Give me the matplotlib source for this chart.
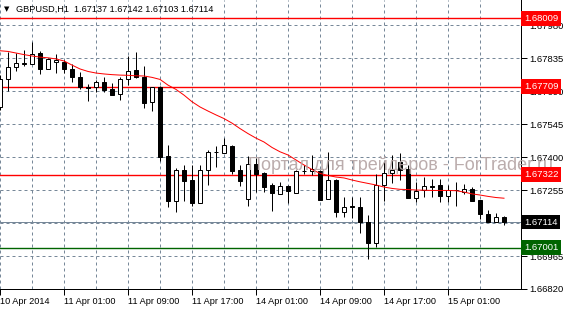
"""GBPUSD H1 candlestick chart, MetaTrader style"""
import numpy as np
import matplotlib
matplotlib.use('Agg')
import matplotlib.pyplot as plt

# OHLC per hourly bar (10 Apr 17:00 .. 15 Apr 08:00)
opens = [1.67620, 1.67743, 1.67794, 1.67810, 1.67810, 1.67856, 1.67785, 1.67816,
         1.67819, 1.67785, 1.67753, 1.67709, 1.67709, 1.67728, 1.67697, 1.67675,
         1.67742, 1.67781, 1.67750, 1.67640, 1.67709, 1.67404, 1.67208, 1.67343,
         1.67299, 1.67197, 1.67343, 1.67420, 1.67416, 1.67448, 1.67343, 1.67214,
         1.67368, 1.67328, 1.67277, 1.67236, 1.67273, 1.67243, 1.67339, 1.67337,
         1.67337, 1.67214, 1.67299, 1.67160, 1.67185, 1.67179, 1.67116, 1.67021,
         1.67276, 1.67331, 1.67379, 1.67346, 1.67221, 1.67255, 1.67271, 1.67277,
         1.67230, 1.67254, 1.67248, 1.67259, 1.67211, 1.67148, 1.67116, 1.67137]
highs = [1.67760, 1.67863, 1.67858, 1.67870, 1.67904, 1.67866, 1.67836, 1.67853,
         1.67826, 1.67807, 1.67772, 1.67719, 1.67738, 1.67750, 1.67726, 1.67753,
         1.67845, 1.67861, 1.67800, 1.67709, 1.67712, 1.67453, 1.67353, 1.67365,
         1.67365, 1.67365, 1.67431, 1.67450, 1.67482, 1.67453, 1.67365, 1.67404,
         1.67397, 1.67335, 1.67284, 1.67291, 1.67277, 1.67343, 1.67365, 1.67409,
         1.67343, 1.67421, 1.67302, 1.67226, 1.67226, 1.67226, 1.67145, 1.67325,
         1.67379, 1.67409, 1.67419, 1.67365, 1.67291, 1.67313, 1.67302, 1.67303,
         1.67277, 1.67291, 1.67281, 1.67270, 1.67211, 1.67167, 1.67154, 1.67142]
lows = [1.67607, 1.67690, 1.67779, 1.67801, 1.67810, 1.67766, 1.67785, 1.67768,
        1.67768, 1.67731, 1.67699, 1.67647, 1.67687, 1.67686, 1.67671, 1.67650,
        1.67716, 1.67747, 1.67617, 1.67603, 1.67384, 1.67182, 1.67160, 1.67208,
        1.67186, 1.67197, 1.67278, 1.67357, 1.67416, 1.67325, 1.67274, 1.67186,
        1.67248, 1.67248, 1.67164, 1.67236, 1.67199, 1.67240, 1.67324, 1.67321,
        1.67211, 1.67214, 1.67135, 1.67138, 1.67131, 1.67065, 1.66952, 1.67003,
        1.67207, 1.67284, 1.67299, 1.67221, 1.67201, 1.67225, 1.67225, 1.67201,
        1.67201, 1.67186, 1.67237, 1.67208, 1.67126, 1.67113, 1.67116, 1.67103]
closes = [1.67743, 1.67794, 1.67812, 1.67812, 1.67851, 1.67785, 1.67829, 1.67826,
          1.67785, 1.67753, 1.67706, 1.67702, 1.67728, 1.67694, 1.67671, 1.67742,
          1.67777, 1.67753, 1.67636, 1.67709, 1.67401, 1.67208, 1.67343, 1.67296,
          1.67197, 1.67343, 1.67421, 1.67423, 1.67451, 1.67340, 1.67296, 1.67368,
          1.67325, 1.67270, 1.67240, 1.67273, 1.67249, 1.67340, 1.67337, 1.67346,
          1.67211, 1.67299, 1.67160, 1.67179, 1.67180, 1.67116, 1.67021, 1.67276,
          1.67331, 1.67343, 1.67343, 1.67221, 1.67251, 1.67273, 1.67270, 1.67230,
          1.67255, 1.67254, 1.67259, 1.67208, 1.67151, 1.67113, 1.67135, 1.67114]

# moving average (red line)
ma = [1.67867, 1.67864, 1.67857, 1.67850, 1.67844, 1.67839, 1.67836, 1.67831,
      1.67822, 1.67804, 1.67787, 1.67776, 1.67769, 1.67765, 1.67762, 1.67760,
      1.67759, 1.67757, 1.67756, 1.67750, 1.67741, 1.67716, 1.67697, 1.67672,
      1.67643, 1.67620, 1.67602, 1.67585, 1.67569, 1.67549, 1.67525, 1.67503,
      1.67483, 1.67466, 1.67442, 1.67423, 1.67409, 1.67387, 1.67365, 1.67345,
      1.67328, 1.67319, 1.67312, 1.67308, 1.67299, 1.67291, 1.67284, 1.67277,
      1.67268, 1.67262, 1.67258, 1.67257, 1.67255, 1.67254, 1.67253, 1.67253,
      1.67253, 1.67252, 1.67246, 1.67238, 1.67233, 1.67227, 1.67222, 1.67219]

red_levels = [1.68009, 1.67709, 1.67322]
green_level = 1.67001
last_price = 1.67114

price_ticks = [1.66820, 1.66965, 1.67110, 1.67255, 1.67400, 1.67545, 1.67690, 1.67835, 1.67980]
time_labels = ['10 Apr 2014', '11 Apr 01:00', '11 Apr 09:00', '11 Apr 17:00',
               '14 Apr 01:00', '14 Apr 09:00', '14 Apr 17:00', '15 Apr 01:00']

title = 'GBPUSD,H1  1.67137 1.67142 1.67103 1.67114'
watermark = 'Портал для трейдеров - ForTrader.ru'

FONT = 'Liberation Sans'
GRID = '#778899'
px = 0.72  # one pixel in points at 100 dpi

fig = plt.figure(figsize=(5.63, 3.10), dpi=100)
ax = fig.add_axes([0, 21 / 310, 521 / 563, 289 / 310])

o = np.array(opens); h = np.array(highs); l = np.array(lows); c = np.array(closes)
x = np.arange(len(o))
up = c >= o

# wicks, then bodies on top
ax.vlines(x, l, h, color='black', lw=px, zorder=3)
body = np.maximum(np.abs(c - o), 0.000004)
ax.bar(x[up], body[up], bottom=np.minimum(o, c)[up], width=0.58,
       color='white', edgecolor='black', linewidth=px, zorder=4)
ax.bar(x[~up], body[~up], bottom=np.minimum(o, c)[~up], width=0.58,
       color='black', edgecolor='black', linewidth=px, zorder=4)

ax.plot(x, ma, color='red', lw=px, zorder=5)

for lv in red_levels:
    ax.axhline(lv, color='red', lw=1.0, zorder=2)
ax.axhline(green_level, color='#006400', lw=1.0, zorder=2)
ax.axhline(last_price, color=GRID, lw=px, zorder=2)

ax.set_xlim(0, 521 / 8)
ax.set_ylim(1.66820, 1.68090)

ax.set_xticks(np.arange(0, 64, 8))
ax.set_xticklabels(time_labels, fontsize=6.6, family=FONT)
for lab in ax.get_xticklabels():
    lab.set_ha('left')
ax.set_xticks(np.arange(4, 64, 8), minor=True)
ax.set_yticks(price_ticks)
# the 1.67110 label sits fully under the last-price tag
ax.set_yticklabels(['' if abs(p - last_price) < 0.0001 else '%.5f' % p for p in price_ticks],
                   fontsize=6.8, family=FONT)
ax.yaxis.tick_right()
ax.tick_params(axis='both', which='major', length=4, width=px, pad=2, colors='black')
ax.tick_params(axis='x', which='minor', length=0)
ax.grid(True, which='both', color=GRID, lw=px, linestyle=(0, (3, 3)), zorder=1)
ax.set_axisbelow(True)

for s in ['top', 'left']:
    ax.spines[s].set_visible(False)
for s in ['right', 'bottom']:
    ax.spines[s].set_linewidth(px)

# watermark text object, running past the plot edge
ax.text(248 / 563, 1 - 165 / 310, watermark, transform=fig.transFigure, fontsize=13.0,
        family=FONT, color='#b4a4a4', alpha=0.9, va='center', ha='left',
        zorder=6, clip_on=False)

# price tags on the right scale
tags = [(p, 'red') for p in red_levels] + [(last_price, 'black'), (green_level, '#006400')]
for p, col in tags:
    ax.text(1.006, p, '%.5f' % p, transform=ax.get_yaxis_transform(), ha='left', va='center',
            fontsize=6.8, family=FONT, color='white', zorder=10, clip_on=False,
            bbox=dict(boxstyle='square,pad=0.3', fc=col, ec='none'))

fig.text(4 / 563, 1 - 9 / 310, '▼', fontsize=5, va='center', ha='left')
fig.text(16 / 563, 1 - 9 / 310, title, fontsize=6.6, family=FONT, va='center', ha='left')

fig.savefig('out.png', dpi=100)
